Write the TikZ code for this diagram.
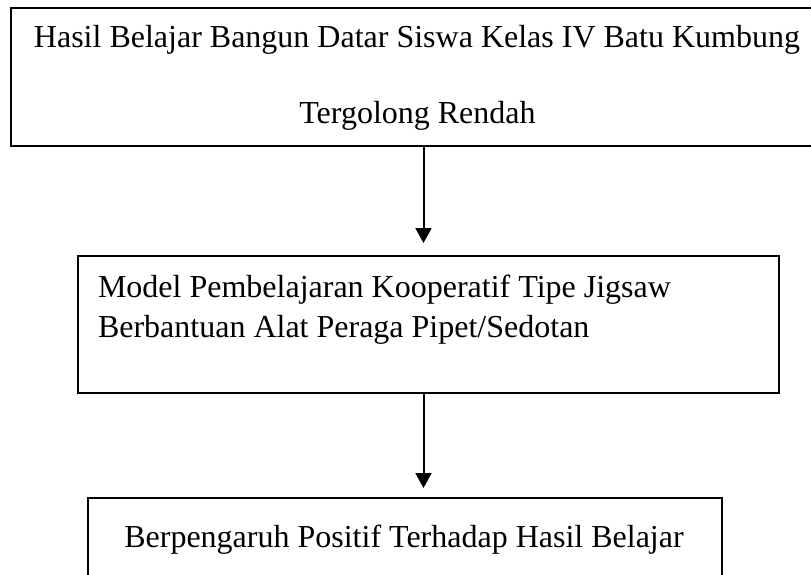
\documentclass[tikz,border=0pt]{standalone}
\usepackage{fontspec}
\setmainfont{Liberation Serif}
\usetikzlibrary{arrows.meta}
\begin{document}
\begin{tikzpicture}[x=1pt,y=-1pt,
  boxstyle/.style={draw=black,line width=2pt,rectangle,inner sep=0pt,outer sep=0pt},
  txt/.style={inner sep=0pt,outer sep=0pt,font=\fontsize{32}{38}\selectfont},
  arr/.style={line width=2pt,-{Triangle[length=15pt,width=16pt]}}]
\useasboundingbox (0,0) rectangle (811,574);
\clip (0,0) rectangle (811,574);
\fill[white] (0,0) rectangle (811,574);
% boxes
\node[boxstyle,minimum width=814pt,minimum height=138pt] (box1) at (418,77) {};
\node[boxstyle,minimum width=701pt,minimum height=137pt] (box2) at (428.5,324.5) {};
\node[boxstyle,minimum width=634pt,minimum height=122pt] (box3) at (405,559) {};
% texts
\node[txt,anchor=base] (t1a) at (417,47) {Hasil Belajar Bangun Datar Siswa Kelas IV Batu Kumbung};
\node[txt,anchor=base] (t1b) at (417.5,123) {Tergolong Rendah};
\node[txt,anchor=base west] (t2a) at (98,297) {Model Pembelajaran Kooperatif Tipe Jigsaw};
\node[txt,anchor=base west] (t2b) at (98,337) {Berbantuan Alat Peraga Pipet/Sedotan};
\node[txt,anchor=base] (t3) at (404,547) {Berpengaruh Positif Terhadap Hasil Belajar};
% arrows
\coordinate (ax) at (423.5,0);
\draw[arr,shorten >=13pt] (box1.south -| ax) -- (box2.north -| ax);
\draw[arr,shorten >=10pt] (box2.south -| ax) -- (box3.north -| ax);
\end{tikzpicture}
\end{document}
